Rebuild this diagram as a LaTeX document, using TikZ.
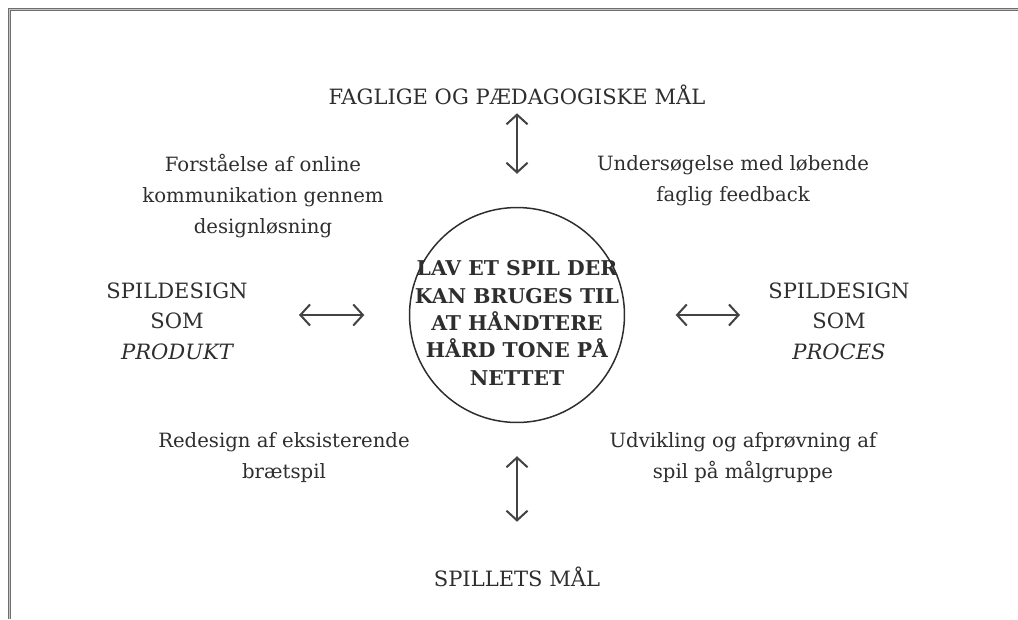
\documentclass[tikz,border=0pt]{standalone}
\usepackage{fontspec}
\setmainfont{DejaVu Serif}
\usetikzlibrary{arrows.meta}
\definecolor{ink}{HTML}{2E2E2E}
\definecolor{frame}{HTML}{6E6E6E}

\begin{document}
\begin{tikzpicture}[x=0.02cm,y=-0.02cm,>={Straight Barb[length=5.5pt,width=12pt]},
  every node/.style={text=ink,align=center,inner sep=0pt},
  goal/.style={font=\fontsize{12}{17.4}\selectfont},
  note/.style={font=\fontsize{11.2}{17.6}\selectfont},
  hub/.style={circle,draw=ink,line width=0.85pt,minimum size=4.3cm},
  hubtext/.style={font=\bfseries\fontsize{11.6}{15.6}\selectfont,yshift=-0.16cm},
  link/.style={<->,draw=ink!90,line width=1.15pt}]
\useasboundingbox (0,0) rectangle (1018,619);
% frame, cut off at right and bottom
\draw[frame,double=frame!40,double distance=0.6pt,line width=0.7pt] (9.5,619) -- (9.5,9.5) -- (1018,9.5);

\node[hub,label={[hubtext]center:LAV ET SPIL DER\\KAN BRUGES TIL\\AT HÅNDTERE\\HÅRD TONE PÅ\\NETTET}] (hub) at (517,315) {};
\node[goal] (top) at (517,95) {FAGLIGE OG PÆDAGOGISKE MÅL};
\node[goal] (bottom) at (517,577) {SPILLETS MÅL};
\node[goal] (product) at (177,321) {SPILDESIGN\\SOM\\\itshape PRODUKT};
\node[goal] (process) at (839,321) {SPILDESIGN\\SOM\\\itshape PROCES};

\node[note] (tl) at (263,196) {Forståelse af online\\kommunikation gennem\\designløsning};
\node[note] (tr) at (733,181) {Undersøgelse med løbende\\faglig feedback};
\node[note] (bl) at (284,458) {Redesign af eksisterende\\brætspil};
\node[note] (br) at (743,458) {Udvikling og afprøvning af\\spil på målgruppe};

\path (top) edge[link,shorten <=0.16cm,shorten >=0.66cm] (hub)
      (hub) edge[link,shorten <=0.66cm,shorten >=0.9cm] (bottom)
      (product.east |- hub) edge[link,shorten <=1.02cm,shorten >=0.89cm] (hub.west)
      (hub.east) edge[link,shorten <=1.01cm,shorten >=0.56cm] (process.west |- hub)
;
\end{tikzpicture}
\end{document}
